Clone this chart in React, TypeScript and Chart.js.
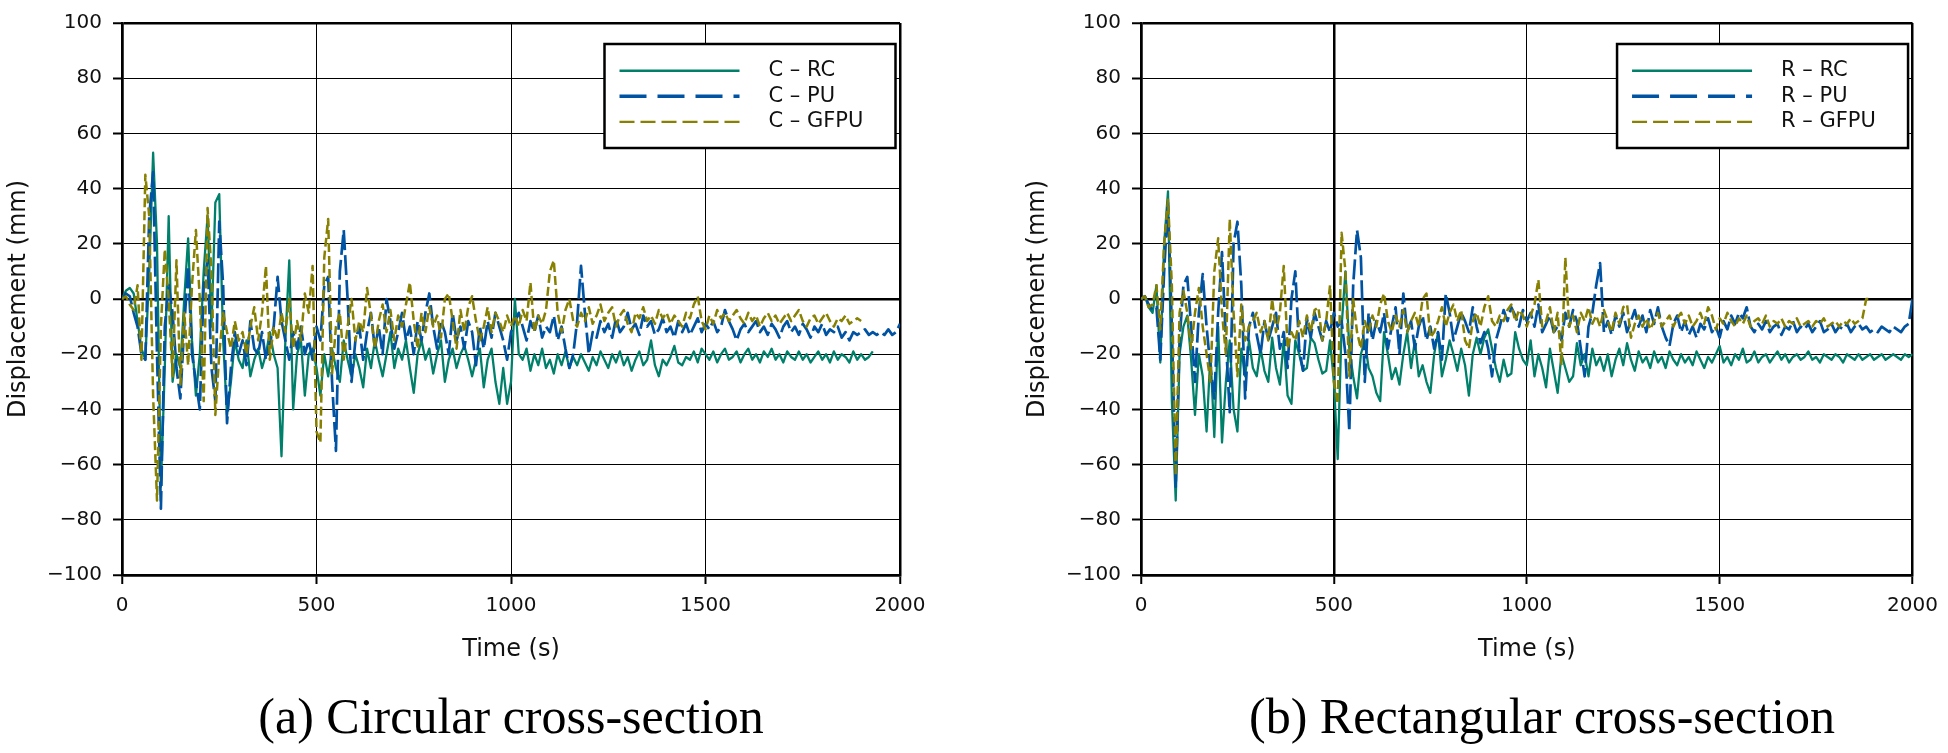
import React, { useEffect, useRef } from "react";
import { Chart, registerables } from "chart.js";

Chart.register(...registerables);

// ---------- data ----------
const TIME_STEP_S = 10; // sampling step of every series below (s)
const X_TICKS = [0, 500, 1000, 1500, 2000];
const Y_TICKS = [-100, -80, -60, -40, -20, 0, 20, 40, 60, 80, 100];

const C_LABELS = ["C – RC", "C – PU", "C – GFPU"];
const R_LABELS = ["R – RC", "R – PU", "R – GFPU"];
const CAPTIONS = ["(a) Circular cross-section", "(b) Rectangular cross-section"];

// Circular cross-section
const C_RC = [
  0, 3, 4, 2, -8, -18, -22, 10, 53, 20,
  -68, -25, 30, -30, -20, -25, 0, 22, -15, -35,
  -20, 10, 30, -10, 35, 38, -15, -42, -30, -15,
  -22, -25, -15, -28, -22, -18, -25, -20, -12, -20,
  -25, -57, -15, 14, -40, -20, -15, -35, -20, -18,
  -25, -35, -20, -28, -18, -25, -30, -15, -22, -28,
  -20, -25, -32, -18, -25, -15, -22, -28, -20, -12,
  -25, -18, -22, -15, -25, -34, -20, -15, -22, -18,
  -27, -20, -15, -30, -22, -18, -25, -20, -17, -22,
  -28, -22, -18, -32, -22, -18, -30, -38, -25, -38,
  -30, 0, -20, -22, -18, -26, -20, -24, -18, -25,
  -22, -27, -20, -24, -19, -25, -21, -24, -20, -23,
  -26, -21, -24, -19, -22, -25, -20, -23, -19, -24,
  -21, -26, -22, -19, -24, -22, -15, -24, -28, -22,
  -24, -21, -17, -23, -24, -21, -22, -19, -23, -18,
  -20, -22, -19, -23, -20, -18, -22, -21, -19, -23,
  -20, -18, -22, -20, -23, -19, -21, -18, -22, -20,
  -23, -19, -21, -22, -19, -22, -20, -23, -21, -19,
  -22, -20, -23, -19, -22, -20, -21, -23, -19, -22,
  -20, -22, -21, -19,
];
const C_PU = [
  0, 2, 1, -5, -10, -20, -22, 30, 46, -20,
  -76, -10, 5, -5, -25, -36, -10, 12, -20, -30,
  -40, 5, 14, -25, -37, 28, 5, -45, -25, -12,
  -20, -15, -24, -8, -18, -20, -12, -22, -16, -10,
  8, -8, -15, -22, -12, -18, -10, -20, -15, -22,
  -10, -15, 5, 8, -30, -55, 10, 25, 0, -30,
  -15, -10, -22, -12, -5, -18, -10, -20, 0, -8,
  -18, -12, -5, -15, -10, -20, -8, -15, -5, 2,
  -10, -18, -8, -12, -20, -5, -15, -10, -18, -8,
  -12, -24, -10, -18, -8, -14, -5, -10, -15, -22,
  -12, -8, -5, -10, -15, -8, -12, -6, -14, -10,
  -12, -6, -15, -10, -18, -25, -20, -8, 12, -5,
  -20, -12, -14, -8, -12, -9, -14, -7, -12, -10,
  -5, -11, -9, -13, -6, -10, -8, -13, -11, -7,
  -12, -10, -14, -8, -12, -9, -13, -10, -7, -12,
  -9, -11, -8, -12, -10, -4, -8, -11, -15, -11,
  -9, -12, -10, -8, -12, -10, -13, -9, -11, -14,
  -10, -8, -12, -10, -13, -9, -11, -14, -10, -12,
  -9, -13, -11, -12, -10, -14, -12, -15, -12, -13,
  -12, -11, -13, -12, -13, -12, -13, -11, -13, -12,
  -9,
];
const C_GFPU = [
  0, 1, -2, -4, 5, -22, 45, 30, -35, -73,
  -10, 18, 0, -28, 14, -31, -5, -24, 5, 25,
  0, -37, 33, 10, -42, -20, -5, -12, -18, -8,
  -15, -12, -20, -10, -3, -15, -5, 12, -22, -10,
  -15, -5, -12, 0, -18, -8, -15, 2, -5, 12,
  -48, -52, 15, 29, -27, -10, -5, -22, -10, 0,
  -15, -8, -12, 4, -6, -18, -8, -2, -12, -4,
  -15, -6, -10, -2, 6, -8, -18, -5, -12, -3,
  -10, -6, -14, 0, 2, -8, -18, -4, -12, -3,
  1, -8, -15, -10, -3, -12, -5, -8, -12, -6,
  -10, -6, -10, -4, -8, 6, -12, -6, -9, -4,
  10, 14, -5, -12, -4, 0, -8, -10, -5, -8,
  -3, -9, -6, -2, -8, -5, -3, -10, -6, -4,
  -9, -12, -5, -7, -3, -8, -6, -9, -4, -7,
  -5, -9, -6, -8, -10, -5, -7, -2, 1, -8,
  -11, -6, -9, -4, -7, -5, -8, -6, -4, -7,
  -9, -5, -8, -6, -10, -7, -5, -8, -6, -9,
  -7, -5, -8, -6, -4, -8, -10, -7, -6, -9,
  -7, -5, -8, -10, -7, -8, -6, -9, -8, -7,
  -8,
];

// Rectangular cross-section
const R_RC = [
  0, 1, -3, -5, 5, -23, 20, 39, -37, -73,
  -20, -10, -6, -22, -42, -20, -28, -48, -20, -50,
  -10, -52, -30, -15, -40, -48, -18, -28, -15, -25,
  -28, -18, -26, -30, -14, -25, -31, -15, -35, -38,
  -15, -20, -26, -25, -14, -16, -22, -27, -26, -15,
  -30, -58, -10, 10, -18, -28, -36, -20, -15, -25,
  -28, -34, -37, -12, -20, -29, -25, -31, -20, -12,
  -25, -15, -28, -24, -30, -34, -20, -12, -28, -22,
  -15, -20, -26, -18, -24, -35, -20, -14, -20, -14,
  -11, -18, -25, -30, -22, -28, -27, -12, -18, -22,
  -24, -15, -28, -20, -25, -32, -18, -26, -34, -20,
  -25, -30, -28, -16, -24, -20, -28, -18, -24, -21,
  -26, -20, -28, -22, -18, -24, -16, -22, -26, -19,
  -23, -21, -25, -19, -23, -21, -25, -19, -22, -24,
  -20, -23, -21, -24, -19, -22, -25, -21, -23, -20,
  -17, -23, -21, -24, -20, -22, -18, -23, -22, -19,
  -23, -21, -20, -23, -21, -19, -22, -20, -23, -21,
  -20, -22, -21, -19, -22, -21, -23, -20, -21, -22,
  -20, -21, -23, -20, -21, -22, -20, -22, -21, -20,
  -22, -21, -20, -22, -21, -20, -21, -22, -20, -21,
  -20,
];
const R_PU = [
  0, 1, -2, -4, -3, -22, 10, 35, -10, -68,
  -15, 5, 8, -10, -30, -5, 9, -10, -25, -36,
  -5, 17, -15, -41, 20, 28, 5, -36, -10, -5,
  -13, -20, -8, -15, -10, -5, -18, -12, -25, 0,
  10, -18, -26, -7, -14, -5, -10, -15, -8, -12,
  -5, -10, -8, -20, -48, 5, 25, 15, -30, -5,
  -15, -8, -12, -5, -18, -10, -3, -20, 2, -12,
  -8, -18, -10, -6, -15, -10, -18, -12, -22, 2,
  -5, -15, -10, -5, -8, -12, -3, -10, -16, -12,
  -18, -28, -15, -10, -4, -8, -3, -6, -10, -4,
  -8, -5, -10, -2, -12, -9, -6, -12, -10, -15,
  -5, -10, -4, -8, -18, -28, -10, -5, 5, 13,
  -12, -8, -13, -6, -10, -5, -12, -8, -4, -10,
  -6, -12, -4, -9, -3, -10, -14, -17, -9, -6,
  -12, -8, -13, -10, -14, -9, -11, -7, -12, -10,
  -14, -8, -11, -6, -9, -5, -7, -3, -10, -12,
  -9, -11, -8, -12, -10, -9, -13, -10, -11, -8,
  -12, -10, -11, -9, -12, -10, -8, -12, -11, -9,
  -12, -10, -11, -9, -12, -10, -9, -11, -10, -12,
  -11, -12, -10, -11, -12, -10, -11, -12, -10, -9,
  0,
];
const R_GFPU = [
  0, 1, -3, -2, 5, -11, 20, 36, 5, -64,
  -5, 3, -5, -18, -5, 4, -10, -20, -30, 10,
  22, -5, -20, 29, -5, -28, -2, -15, -10, -8,
  -5, -12, -8, -15, 0, -12, -5, 12, -18, -12,
  -15, -8, -14, -6, -12, -4, -3, -15, -8, 5,
  -30, -38, 24, 10, -28, 0, -12, -18, -8, -12,
  -6, -10, -2, 2, -8, -12, -6, -10, -4, -12,
  -8, -5, -10, 0, 2, -14, -12, -8, -3, -10,
  -5, -2, -8, -4, -15, -18, -8, -5, -10, -3,
  1, -8, -10, -6, -8, -4, -2, -8, -4, -6,
  -10, -6, -2, 7, -10, -8, -3, -12, -5, -24,
  15, -10, -6, -12, -5, -8, -3, -9, -6, -10,
  -4, -8, -12, -5, -9, -3, -2, -14, -9, -6,
  -10, -7, -11, -8, -5, -10, -8, -6, -10, -7,
  -5, -9, -6, -10, -8, -5, -9, -3, -6, -11,
  -7, -9, -5, -8, -10, -7, -9, -6, -10, -8,
  -7, -9, -6, -10, -8, -9, -7, -10, -8, -9,
  -7, -10, -9, -8, -10, -8, -9, -7, -10, -9,
  -8, -10, -8, -9, -7, -9, -8, -7, 0, 0,
];

// ---------- styles ----------
const COLORS = ["#00806a", "#0052a2", "#878000"];
const LINE_WIDTHS = [2.3, 2.7, 2.5];
const LINE_DASH: number[][] = [[], [20, 5], [9, 4]];
const LEGEND_DASH: number[][] = [[], [27, 11], [15, 6]];
const LEGEND_WIDTH = [2.4, 3.6, 2.4];
const TICK_FONT = { family: "'DejaVu Sans', sans-serif", size: 20 };
const TITLE_FONT = { family: "'DejaVu Sans', sans-serif", size: 24 };

function toPoints(vals: number[]) {
  return vals.map((y, i) => ({ x: i * TIME_STEP_S, y }));
}

const boxLegend = {
  id: "boxLegend",
  afterDatasetsDraw(chart: any) {
    const { ctx, chartArea } = chart;
    const w = 291;
    const h = 104;
    const x0 = chartArea.right - 4.5 - w;
    const y0 = chartArea.top + 21;
    ctx.save();
    ctx.fillStyle = "#ffffff";
    ctx.fillRect(x0, y0, w, h);
    ctx.lineWidth = 2.5;
    ctx.strokeStyle = "#000";
    ctx.setLineDash([]);
    ctx.strokeRect(x0, y0, w, h);
    chart.data.datasets.forEach((ds: any, i: number) => {
      const y = y0 + 26.7 + i * 25.6;
      ctx.beginPath();
      ctx.setLineDash(LEGEND_DASH[i]);
      ctx.lineWidth = LEGEND_WIDTH[i];
      ctx.strokeStyle = COLORS[i];
      ctx.moveTo(x0 + 15, y);
      ctx.lineTo(x0 + 135, y);
      ctx.stroke();
      ctx.setLineDash([]);
      ctx.fillStyle = "#111";
      ctx.font = "21px 'DejaVu Sans', sans-serif";
      ctx.textAlign = "left";
      ctx.textBaseline = "middle";
      ctx.fillText(ds.label, x0 + 164, y);
    });
    ctx.restore();
  },
};

function fmtTick(v: number) {
  return v < 0 ? "\u2212" + Math.abs(v) : String(v);
}

function DispChart(props: {
  series: number[][];
  labels: string[];
  width: number;
  padLeft: number;
  padRight: number;
  thickX: number[];
}) {
  const ref = useRef<HTMLCanvasElement | null>(null);
  useEffect(() => {
    if (!ref.current) return;
    const datasets = props.series.map((vals, i) => ({
      label: props.labels[i],
      data: toPoints(vals),
      borderColor: COLORS[i],
      backgroundColor: COLORS[i],
      borderWidth: LINE_WIDTHS[i],
      borderDash: LINE_DASH[i],
      borderJoinStyle: "round",
      pointRadius: 0,
      tension: 0,
      fill: false,
      order: 2 - i,
    }));
    const chart = new Chart(ref.current, {
      type: "line",
      data: { datasets },
      plugins: [boxLegend],
      options: {
        responsive: false,
        animation: false,
        devicePixelRatio: 1,
        layout: { padding: { left: props.padLeft, right: props.padRight, top: 15, bottom: 0 } },
        plugins: { legend: { display: false }, tooltip: { enabled: false } },
        scales: {
          x: {
            type: "linear",
            min: 0,
            max: 2000,
            afterBuildTicks: (s: any) => {
              s.ticks = X_TICKS.map((v) => ({ value: v }));
            },
            afterFit: (s: any) => {
              s.height = 125;
            },
            ticks: { font: TICK_FONT, color: "#111", padding: 10, maxRotation: 0, autoSkip: false, callback: (v: any) => fmtTick(Number(v)) },
            grid: {
              color: "#000",
              lineWidth: (c: any) => {
                const v = c.tick ? c.tick.value : 0;
                return v === 0 || v === 2000 || props.thickX.includes(v) ? 2.5 : 1;
              },
              tickLength: 9,
              tickWidth: 2,
              tickColor: "#000",
            },
            border: { display: true, color: "#000", width: 2.5 },
            title: { display: true, text: "Time (s)", font: TITLE_FONT, color: "#111", padding: { top: 0, bottom: 36 } },
          },
          y: {
            type: "linear",
            min: -100,
            max: 100,
            afterBuildTicks: (s: any) => {
              s.ticks = Y_TICKS.map((v) => ({ value: v }));
            },
            afterFit: (s: any) => {
              s.width = 122;
            },
            ticks: { font: TICK_FONT, color: "#111", padding: 11, autoSkip: false, callback: (v: any) => fmtTick(Number(v)) },
            grid: {
              color: "#000",
              lineWidth: (c: any) => {
                const v = c.tick ? c.tick.value : 0;
                return v === 0 || v === 100 || v === -100 ? 2.5 : 1;
              },
              tickLength: 9,
              tickWidth: 2,
              tickColor: "#000",
            },
            border: { display: true, color: "#000", width: 2.5 },
            title: { display: true, text: "Displacement (mm)", font: TITLE_FONT, color: "#111", padding: { top: 4, bottom: 0 } },
          },
        },
      } as any,
    });
    return () => chart.destroy();
  }, []);
  return <canvas ref={ref} width={props.width} height={700} style={{ display: "block" }} />;
}

const captionStyle: React.CSSProperties = {
  position: "absolute",
  top: 691,
  fontFamily: "'Liberation Serif', 'Times New Roman', serif",
  fontSize: 50,
  lineHeight: "50px",
  color: "#000",
  whiteSpace: "nowrap",
  transform: "translateX(-50%)",
};

export default function App() {
  return (
    <div style={{ position: "absolute", left: 0, top: 0, width: 1948, height: 753, background: "#fff", overflow: "hidden" }}>
      <div style={{ position: "absolute", left: 0, top: 0 }}>
        <DispChart series={[C_RC, C_PU, C_GFPU]} labels={C_LABELS} width={960} padLeft={0} padRight={60} thickX={[]} />
      </div>
      <div style={{ position: "absolute", left: 974, top: 0 }}>
        <DispChart series={[R_RC, R_PU, R_GFPU]} labels={R_LABELS} width={974} padLeft={45} padRight={29} thickX={[500]} />
      </div>
      <div style={{ ...captionStyle, left: 511 }}>{CAPTIONS[0]}</div>
      <div style={{ ...captionStyle, left: 1542 }}>{CAPTIONS[1]}</div>
    </div>
  );
}
